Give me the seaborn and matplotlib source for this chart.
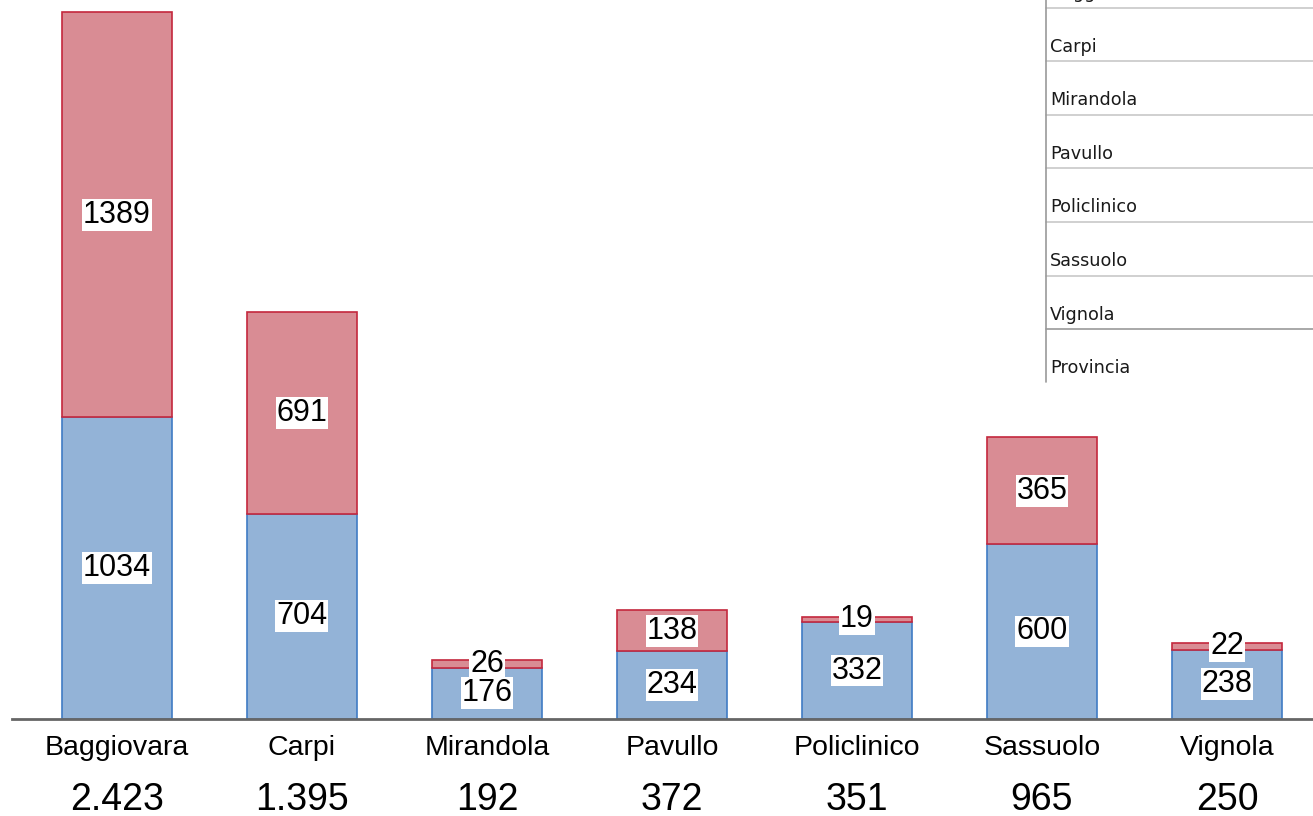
import matplotlib
matplotlib.use("Agg")
import matplotlib.pyplot as plt
import seaborn as sns
import pandas as pd
from matplotlib.lines import Line2D

# Dati per sede
sedi = ["Baggiovara", "Carpi", "Mirandola", "Pavullo", "Policlinico", "Sassuolo", "Vignola"]
serie_blu = [1034, 704, 176, 234, 332, 600, 238]
serie_rossa = [1389, 691, 26, 138, 19, 365, 22]
totali = [2423, 1395, 192, 372, 351, 965, 250]
righe_tabella = sedi + ["Provincia"]

BLU, BLU_BORDO = "#93B3D7", "#3F7BC4"
ROSSO, ROSSO_BORDO = "#D98C94", "#C4283D"

sns.set_theme(style="white")
plt.rcParams["font.family"] = ["Liberation Sans", "DejaVu Sans"]

df = pd.DataFrame({"sede": sedi, "blu": serie_blu, "rosso": serie_rossa})

W, H = 1313, 816
fig = plt.figure(figsize=(W / 100, H / 100), dpi=100)
ax = fig.add_axes([0, 97 / H, 1, 719 / H])

sns.barplot(data=df, x="sede", y="blu", order=sedi, color=BLU, width=0.59,
            edgecolor=BLU_BORDO, linewidth=1.2, saturation=1, ax=ax)
sns.barplot(data=df, x="sede", y="rosso", order=sedi, color=ROSSO, width=0.59,
            bottom=df["blu"].to_numpy(), edgecolor=ROSSO_BORDO, linewidth=1.2,
            saturation=1, ax=ax)

# Etichette dei segmenti: quelle blu sopra le rosse quando si sovrappongono
box = dict(boxstyle="square,pad=0.03", facecolor="white", edgecolor="none")
cont_blu, cont_rosso = ax.containers[0], ax.containers[1]
for cont, vals, z in [(cont_rosso, serie_rossa, 5), (cont_blu, serie_blu, 6)]:
    testi = ax.bar_label(cont, labels=[str(v) for v in vals], label_type="center",
                         fontsize=22, color="black", bbox=box)
    for t in testi:
        t.set_zorder(z)

ax.set_xlim(-0.632, 6.465)
ax.set_ylim(0, 2464)
ax.set_xlabel("")
ax.set_ylabel("")
ax.set_yticks([])
ax.set_xticks(range(len(sedi)))
ax.set_xticklabels([])
ax.tick_params(axis="x", length=0)
for s in ["top", "right", "left"]:
    ax.spines[s].set_visible(False)
ax.spines["bottom"].set_color("#666666")
ax.spines["bottom"].set_linewidth(2)
ax.spines["bottom"].set_bounds(-0.568, 6.465)

for i, (nome, tot) in enumerate(zip(sedi, totali)):
    ax.annotate(nome, xy=(i, 0), xytext=(0, -21), textcoords="offset points",
                ha="center", va="center", fontsize=20.5, color="black",
                annotation_clip=False)
    ax.annotate(f"{tot:,}".replace(",", "."), xy=(i, 0), xytext=(0, -58),
                textcoords="offset points", ha="center", va="center",
                fontsize=27, color="black", annotation_clip=False)

# Riquadro con l'elenco delle sedi in alto a destra
x0 = 1046 / W
passo = 53.6
for k, nome in enumerate(righe_tabella):
    yc = -7 + k * passo
    fig.text(1050 / W, 1 - yc / H, nome, ha="left", va="center",
             fontsize=12.7, family="DejaVu Sans", color="#1a1a1a")
    if k < len(righe_tabella) - 1:
        yl = yc + 14.5
        colore = "#999999" if k == len(righe_tabella) - 2 else "#C8C8C8"
        fig.add_artist(Line2D([x0, 1], [1 - yl / H, 1 - yl / H],
                              transform=fig.transFigure, color=colore, lw=1.2))
fig.add_artist(Line2D([x0, x0], [1, 1 - 382 / H], transform=fig.transFigure,
                      color="#999999", lw=1.2))

fig.savefig("out.png", dpi=100)
